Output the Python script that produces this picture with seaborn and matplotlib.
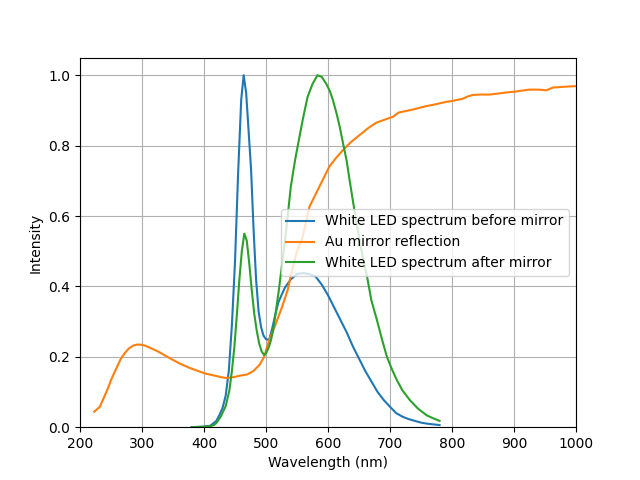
import matplotlib
matplotlib.use("Agg")
import matplotlib.pyplot as plt
import seaborn as sns
import pandas as pd

led_wl = [380, 390, 400, 410, 420, 425, 430, 435, 440, 445, 450, 455, 460, 464,
          468, 472, 476, 480, 484, 488, 492, 496, 500, 505, 510, 515, 520, 530,
          540, 550, 560, 570, 580, 590, 600, 610, 620, 630, 640, 650, 660, 670,
          680, 690, 700, 710, 720, 730, 740, 750, 760, 770, 780]
led_before = [0.0, 0.001, 0.002, 0.004, 0.018, 0.035, 0.055, 0.09, 0.16, 0.29, 0.47,
              0.72, 0.93, 1.0, 0.95, 0.84, 0.73, 0.56, 0.42, 0.33, 0.285, 0.26,
              0.25, 0.248, 0.28, 0.32, 0.355, 0.395, 0.42, 0.435, 0.438, 0.435,
              0.428, 0.405, 0.375, 0.34, 0.305, 0.27, 0.23, 0.195, 0.16, 0.13,
              0.10, 0.077, 0.058, 0.04, 0.03, 0.023, 0.018, 0.013, 0.01, 0.008, 0.006]

after_wl = [380, 390, 400, 410, 416, 420, 427, 435, 441, 445, 449, 453, 457, 461,
            465, 469, 473, 477, 481, 485, 489, 493, 497, 500, 504, 508, 512, 516,
            520, 525, 530, 535, 540, 547, 554, 560, 567, 575, 583, 590, 597, 603,
            608, 614, 619, 625, 630, 635, 640, 645, 651, 657, 663, 670, 679, 687,
            695, 703, 711, 720, 732, 745, 759, 770, 780]
led_after = [0.0, 0.0, 0.001, 0.003, 0.006, 0.012, 0.03, 0.06, 0.105, 0.16, 0.228,
             0.32, 0.418, 0.5, 0.55, 0.53, 0.465, 0.39, 0.323, 0.275, 0.238, 0.215,
             0.205, 0.21, 0.225, 0.247, 0.28, 0.33, 0.38, 0.45, 0.52, 0.6, 0.683,
             0.76, 0.825, 0.88, 0.938, 0.975, 1.0, 0.995, 0.976, 0.955, 0.929, 0.89,
             0.853, 0.8, 0.758, 0.7, 0.645, 0.59, 0.531, 0.475, 0.428, 0.36, 0.304,
             0.25, 0.2, 0.165, 0.134, 0.105, 0.077, 0.053, 0.034, 0.025, 0.018]

au_wl = [223, 232, 239, 245, 250, 258, 266, 272, 279, 286, 293, 300, 306, 315, 327,
         338, 349, 362, 376, 390, 403, 416, 428, 435, 443, 450, 457, 470, 480, 490,
         497, 505, 515, 526, 535, 542, 550, 559, 570, 586, 602, 613, 624, 637, 651,
         665, 678, 692, 705, 714, 725, 736, 747, 758, 770, 780, 790, 801, 817, 826,
         834, 848, 861, 875, 888, 900, 912, 925, 940, 952, 963, 980, 1000]
au_refl = [0.044, 0.058, 0.086, 0.11, 0.134, 0.165, 0.195, 0.21, 0.224, 0.232, 0.235,
           0.234, 0.231, 0.224, 0.214, 0.203, 0.192, 0.18, 0.169, 0.16, 0.152, 0.147,
           0.142, 0.14, 0.141, 0.143, 0.146, 0.15, 0.16, 0.178, 0.2, 0.247, 0.29,
           0.342, 0.39, 0.446, 0.5, 0.54, 0.626, 0.683, 0.74, 0.765, 0.787, 0.81,
           0.83, 0.85, 0.865, 0.874, 0.882, 0.894, 0.898, 0.902, 0.907, 0.912, 0.916,
           0.92, 0.924, 0.927, 0.933, 0.94, 0.944, 0.945, 0.945, 0.948, 0.951, 0.953,
           0.956, 0.959, 0.959, 0.957, 0.965, 0.967, 0.969]

labels = ["White LED spectrum before mirror", "Au mirror reflection",
          "White LED spectrum after mirror"]

df_before = pd.DataFrame({"Wavelength": led_wl, "Intensity": led_before})
df_au = pd.DataFrame({"Wavelength": au_wl, "Intensity": au_refl})
df_after = pd.DataFrame({"Wavelength": after_wl, "Intensity": led_after})

fig, ax = plt.subplots(figsize=(6.4, 4.8), dpi=100)
colors = sns.color_palette("tab10")
sns.lineplot(data=df_before, x="Wavelength", y="Intensity", ax=ax,
             color=colors[0], label=labels[0], linewidth=1.5)
sns.lineplot(data=df_au, x="Wavelength", y="Intensity", ax=ax,
             color=colors[1], label=labels[1], linewidth=1.5)
sns.lineplot(data=df_after, x="Wavelength", y="Intensity", ax=ax,
             color=colors[2], label=labels[2], linewidth=1.5)

ax.set_xlim(200, 1000)
ax.set_ylim(0, 1.05)
ax.set_xlabel("Wavelength (nm)")
ax.set_ylabel("Intensity")
ax.grid(True)
ax.legend(loc="center right")
fig.savefig("out.png", dpi=100)
